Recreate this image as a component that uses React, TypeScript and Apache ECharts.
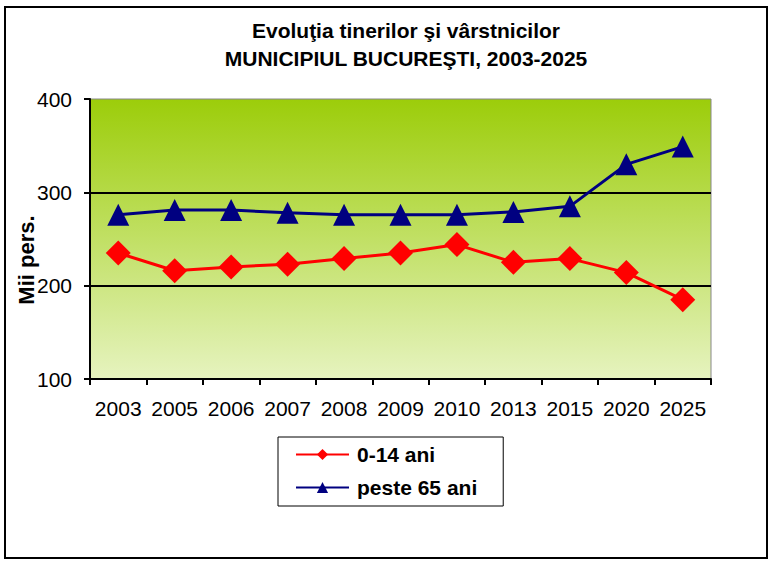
import React, { useEffect, useRef } from "react";
import * as echarts from "echarts";

const years = ["2003", "2005", "2006", "2007", "2008", "2009", "2010", "2013", "2015", "2020", "2025"];
const young = [235, 216, 220, 223, 229, 235, 244, 225, 229, 214, 185];
const old = [276, 281, 281, 278, 276, 276, 276, 279, 285, 330, 349];
const yTicks = { min: 100, max: 400, interval: 100 };

export default function App() {
  const ref = useRef<HTMLDivElement>(null);
  useEffect(() => {
    if (!ref.current) return;
    const chart = echarts.init(ref.current, null, { renderer: "svg" });
    const font = "Arial, 'Liberation Sans', sans-serif";
    chart.setOption({
      animation: false,
      backgroundColor: "#fff",
      title: {
        text: "Evoluţia tinerilor şi vârstnicilor\nMUNICIPIUL BUCUREŞTI, 2003-2025",
        left: 401,
        textAlign: "center",
        top: 11,
        textStyle: { fontFamily: font, fontSize: 21, fontWeight: "bold", color: "#000", lineHeight: 28 },
      },
      graphic: [
        {
          type: "rect",
          shape: { x: 5, y: 7, width: 762, height: 551 },
          style: { fill: "none", stroke: "#000", lineWidth: 2 },
          silent: true,
        },
        {
          type: "text",
          x: 26,
          y: 260,
          rotation: Math.PI / 2,
          style: {
            text: "Mii pers.",
            fontFamily: font,
            fontSize: 22,
            fontWeight: "bold",
            fill: "#000",
            align: "center",
            verticalAlign: "middle",
          },
          silent: true,
        },
      ],
      legend: {
        orient: "vertical",
        left: 278,
        top: 437,
        padding: [7, 26, 8, 17],
        itemWidth: 53,
        itemHeight: 14,
        itemGap: 12,
        borderColor: "#000",
        borderWidth: 1,
        textStyle: {
          fontFamily: font,
          fontSize: 21,
          fontWeight: "bold",
          color: "#000",
          padding: [0, 0, 0, 3],
        },
        data: ["0-14 ani", "peste 65 ani"],
      },
      grid: {
        left: 90,
        right: 60,
        top: 99,
        bottom: 186,
        show: true,
        borderColor: "#888",
        borderWidth: 1,
        backgroundColor: new echarts.graphic.LinearGradient(0, 0, 0, 1, [
          { offset: 0, color: "#9ccd0a" },
          { offset: 1, color: "#e6f3bf" },
        ]),
      },
      xAxis: {
        type: "category",
        data: years,
        boundaryGap: true,
        axisLine: { lineStyle: { color: "#000", width: 2 } },
        axisTick: { show: true, length: 6, lineStyle: { color: "#000", width: 2 } },
        axisLabel: { fontFamily: font, fontSize: 21, color: "#000", margin: 19, interval: 0 },
      },
      yAxis: {
        type: "value",
        min: yTicks.min,
        max: yTicks.max,
        interval: yTicks.interval,
        axisLine: { show: true, lineStyle: { color: "#000", width: 2 } },
        axisTick: { show: true, length: 6, lineStyle: { color: "#000", width: 2 } },
        axisLabel: { fontFamily: font, fontSize: 21, color: "#000", margin: 18 },
        splitLine: { show: true, showMinLine: false, showMaxLine: false, lineStyle: { color: "#000", width: 2 } },
      },
      series: [
        {
          name: "0-14 ani",
          type: "line",
          data: young,
          symbol: "diamond",
          symbolSize: 25,
          color: "#ff0000",
          lineStyle: { color: "#ff0000", width: 3 },
          itemStyle: { color: "#ff0000" },
        },
        {
          name: "peste 65 ani",
          type: "line",
          data: old,
          symbol: "triangle",
          symbolSize: 22,
          color: "#000080",
          lineStyle: { color: "#000080", width: 3 },
          itemStyle: { color: "#000080" },
        },
      ],
    });
    return () => chart.dispose();
  }, []);
  return (
    <div
      ref={ref}
      style={{ position: "fixed", left: 0, top: 0, width: 771, height: 565, background: "#fff" }}
    />
  );
}
